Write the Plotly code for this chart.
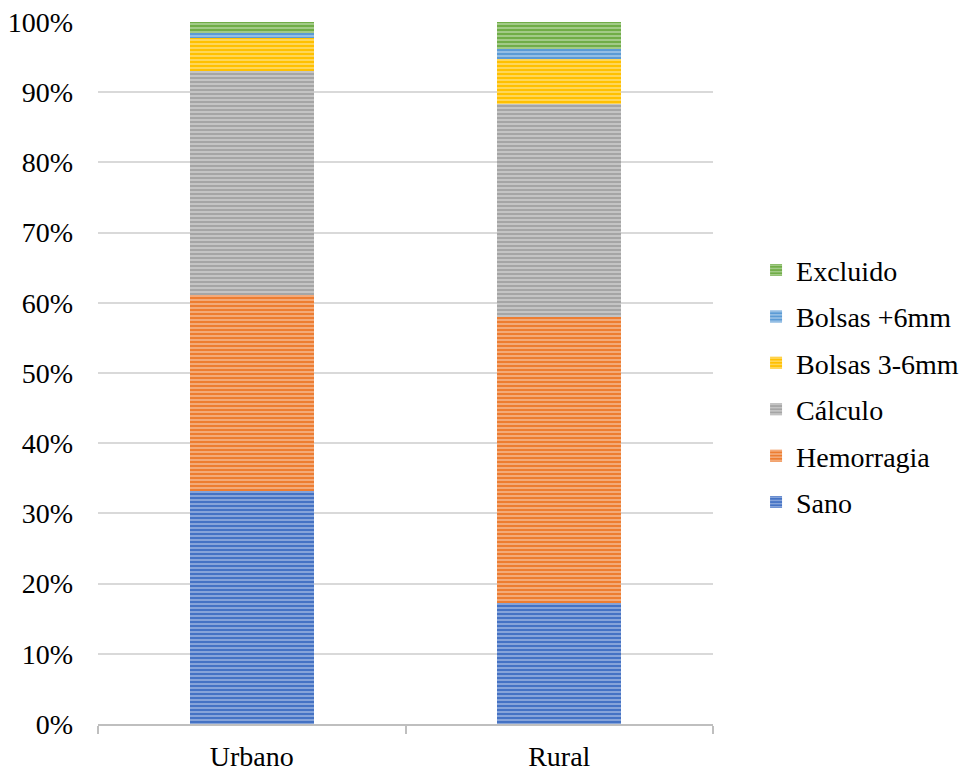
import plotly.graph_objects as go

# Share of each periodontal condition per zone (percent of examined sextants)
zones = ["Urbano", "Rural"]
series_names = ["Sano", "Hemorragia", "Cálculo", "Bolsas 3-6mm", "Bolsas +6mm", "Excluido"]
sano = [33.2, 17.2]
hemorragia = [27.9, 40.8]
calculo = [31.9, 30.3]
bolsas_3_6 = [4.7, 6.4]
bolsas_6 = [0.7, 1.4]
excluido = [1.6, 3.9]
series_values = [sano, hemorragia, calculo, bolsas_3_6, bolsas_6, excluido]
series_colors = ["#4472C4", "#ED7D31", "#A5A5A5", "#FFC000", "#5B9BD5", "#70AD47"]
y_ticks = list(range(0, 101, 10))

FONT = "Liberation Serif, Times New Roman, serif"

fig = go.Figure()
n = len(series_names)
for i, (name, vals, col) in enumerate(zip(series_names, series_values, series_colors)):
    fig.add_trace(go.Bar(
        x=zones, y=vals, name=name,
        legendgroup=f"g{i}",
        legendrank=100 * (n - i),
        marker=dict(
            color=col,
            line=dict(width=0),
            pattern=dict(shape="-", fgcolor="white", fgopacity=0.5,
                         size=4, solidity=0.35),
        ),
    ))

fig.update_layout(
    barmode="stack",
    bargap=0.597,
    width=970, height=771,
    margin=dict(l=98, r=257, t=22, b=47, autoexpand=False),
    paper_bgcolor="white", plot_bgcolor="white",
    font=dict(family=FONT, size=28, color="black"),
    legend=dict(
        x=1.07, xanchor="left", y=0.481, yanchor="middle",
        traceorder="grouped", tracegroupgap=7,
        font=dict(family=FONT, size=28, color="black"),
        itemwidth=30,
    ),
    xaxis=dict(
        automargin=False,
        showline=True, linecolor="#BFBFBF", linewidth=2,
        ticks="outside", tickson="boundaries", ticklen=8, tickwidth=2,
        tickcolor="#BFBFBF", showgrid=False,
        ticklabelstandoff=6,
        tickfont=dict(family=FONT, size=28),
    ),
    yaxis=dict(
        automargin=False,
        range=[0, 100], tickvals=y_ticks,
        ticktext=[f"{v}%" for v in y_ticks],
        showgrid=True, gridcolor="#D9D9D9", gridwidth=1.5,
        zeroline=False, showline=False, ticks="",
        ticklabelstandoff=24,
        tickfont=dict(family=FONT, size=28),
    ),
)

fig.write_html("out.html")
